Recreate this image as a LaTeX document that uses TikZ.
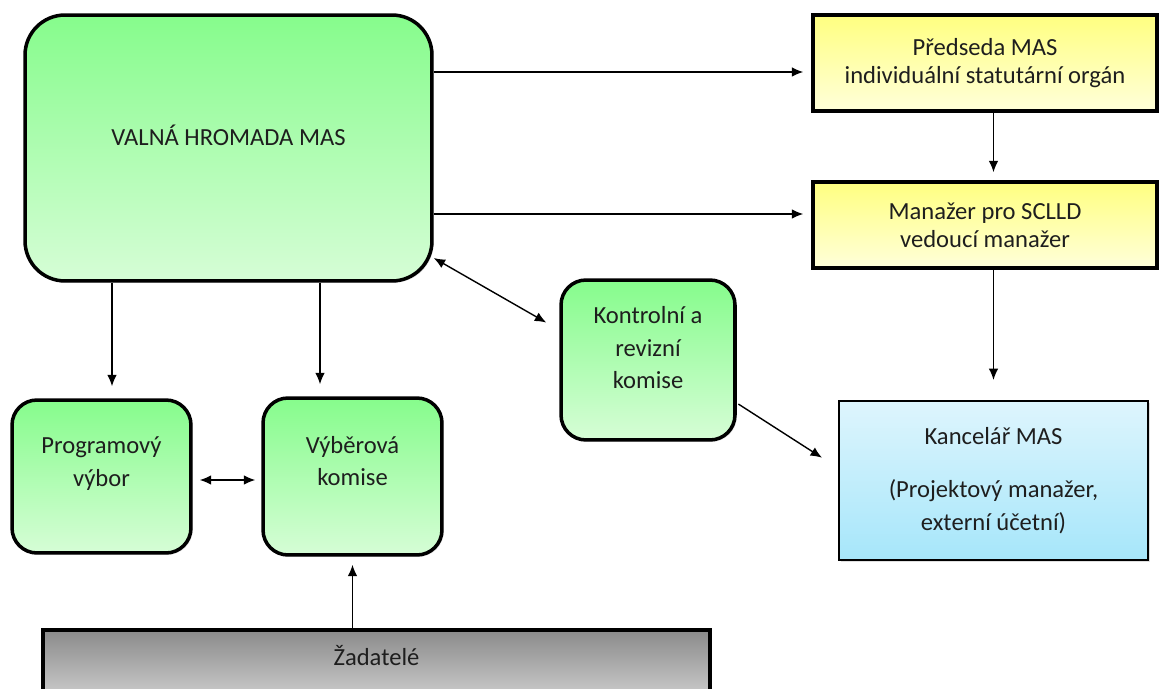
\documentclass[tikz,border=0pt]{standalone}
\usepackage{fontspec}
\setmainfont{Carlito}
\usepackage{tikz}
\usetikzlibrary{arrows.meta}
\usetikzlibrary{positioning}
\usetikzlibrary{shadows}

\definecolor{greentop}{RGB}{134,252,140}
\definecolor{greenbot}{RGB}{214,253,214}
\definecolor{yellowtop}{RGB}{255,255,128}
\definecolor{yellowbot}{RGB}{255,255,218}
\definecolor{bluetop}{RGB}{222,245,253}
\definecolor{bluebot}{RGB}{166,230,250}
\definecolor{graytop}{RGB}{138,138,138}
\definecolor{graybot}{RGB}{218,218,218}
\definecolor{textcol}{RGB}{30,30,30}

\tikzset{
  box/.style={draw, line width=2pt, align=center, text=textcol,
    font=\fontsize{14}{18.5}\selectfont,
    drop shadow={shadow xshift=1pt, shadow yshift=-1pt, opacity=.25}},
  greenbox/.style={box, rounded corners=.5cm, top color=greentop, bottom color=greenbot},
  yellowbox/.style={box, font=\fontsize{14}{16}\selectfont, top color=yellowtop, bottom color=yellowbot},
  bluebox/.style={box, line width=1.2pt, top color=bluetop, bottom color=bluebot},
  graybox/.style={box, top color=graytop, bottom color=graybot},
  arr/.style={-{Latex[length=6.5pt,width=5.5pt]}, line width=.8pt},
  arrboth/.style={{Latex[length=6.5pt,width=5.5pt]}-{Latex[length=6.5pt,width=5.5pt]}, line width=.8pt}
}

\begin{document}
\begin{tikzpicture}[x=.02cm, y=-.02cm]
          \useasboundingbox (0,0) rectangle (1159,689);

          \node [greenbox, rounded corners=.8cm, minimum width=8.14cm, minimum height=5.32cm, text depth=.52cm]
            (valna) at (228.5,148) {VALNÁ HROMADA MAS};
          \node [yellowbox, minimum width=6.88cm, minimum height=1.92cm]
            (predseda) at (985,63) {Předseda MAS\\individuální statutární orgán};
          \node [yellowbox, minimum width=6.88cm, minimum height=1.72cm, text depth=0cm]
            (manazer) at (985,225) {Manažer pro SCLLD\\vedoucí manažer};
          \node [bluebox, minimum width=6.18cm, minimum height=3.18cm]
            (kancelar) at (993.5,480.5) {Kancelář MAS\\[.42cm](Projektový manažer,\\externí účetní)};
          \node [greenbox, minimum width=3.48cm, minimum height=3.2cm, text depth=.5cm]
            (kontrolni) at (648,360) {Kontrolní a\\revizní\\komise};
          \node [greenbox, minimum width=3.58cm, minimum height=3.06cm, text depth=.6cm]
            (programovy) at (101.5,476.5) {Programový\\výbor};
          \node [greenbox, minimum width=3.58cm, minimum height=3.14cm, text depth=.62cm]
            (vyberova) at (352.5,476.5) {Výběrová\\komise};
          \node [graybox, minimum width=13.34cm, minimum height=1.64cm, text depth=.62cm]
            (zadatele) at (376.5,671) {Žadatelé};

          \draw [arr, shorten >=.16cm] (valna.east |- 0,72) -- (predseda.west |- 0,72);
          \draw [arr, shorten >=.16cm] (valna.east |- 0,214) -- (manazer.west |- 0,214);
          \draw [arr, shorten >=.16cm] (predseda.south -| kancelar.north) -- (manazer.north -| kancelar.north);
          \draw [arr, shorten >=.4cm] (manazer.south -| kancelar.north) -- (kancelar.north);
          \draw [arr, shorten >=.24cm] (valna.south -| 112,0) -- (programovy.north -| 112,0);
          \draw [arr, shorten >=.24cm] (valna.south -| 320,0) -- (vyberova.north -| 320,0);
          \draw [arrboth, shorten <=.14cm, shorten >=.12cm] (programovy.east |- 0,480) -- (vyberova.west |- 0,480);
          \draw [arr, shorten >=.16cm] (zadatele.north -| vyberova.south) -- (vyberova.south);
          \draw [arrboth, shorten >=.3cm] (valna.east |- 0,258) -- (kontrolni.west |- 0,330);
          \draw [arr, shorten <=.04cm, shorten >=.38cm] (kontrolni.east |- 0,403) -- (kancelar.west |- 0,468);
        \end{tikzpicture}
\end{document}
